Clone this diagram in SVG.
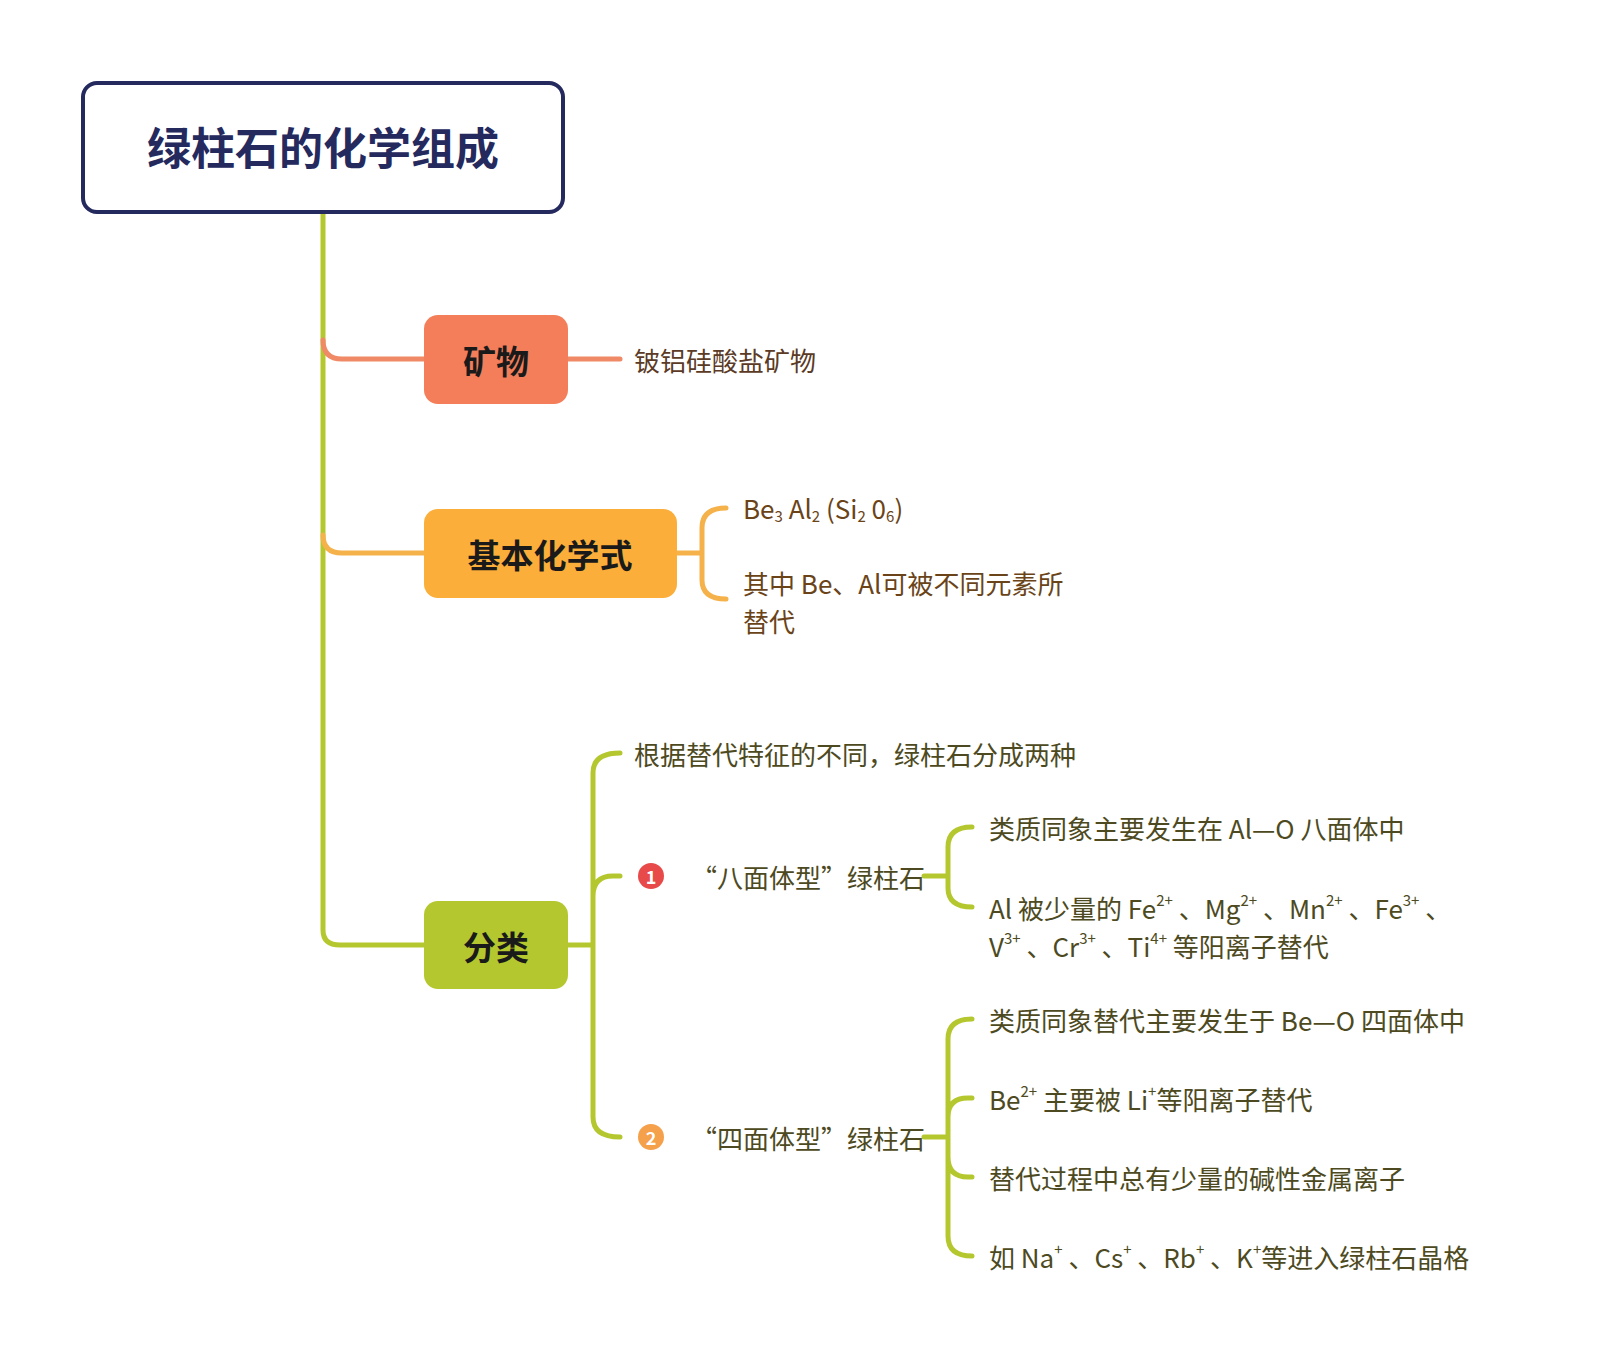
<svg xmlns="http://www.w3.org/2000/svg" width="1611" height="1354" viewBox="0 0 1611 1354">
<style>
text{font-family:"Noto Sans CJK SC","Noto Sans",sans-serif;dominant-baseline:central}
.t{font-size:26px}
.br{fill:#5b3a26}
.ol{fill:#4d4a22}
.or{fill:#6a4418}
.b{font-size:33px;font-weight:bold;fill:#1a1a1a;text-anchor:middle}
.s{font-size:15px}
.ln{fill:none;stroke-width:5;stroke-linecap:round}
</style>
<rect width="1611" height="1354" fill="#fff"/>
<g id="connectors">
<path class="ln" stroke="#B5C72F" d="M323 212 V930 Q323 945 340 945 H424"/>
<path class="ln" stroke="#F08A66" d="M323 340 Q323 359 342 359 H424"/>
<path class="ln" stroke="#F5B14A" d="M323 535 Q323 553 342 553 H424"/>
<path class="ln" stroke="#F08A66" d="M568 359 H620"/>
<path class="ln" stroke="#F5B14A" d="M677 553 H702 M726 508 Q702 508 702 528 V580 Q702 599 726 599"/>
<path class="ln" stroke="#B5C72F" d="M568 945 H593 M620 753 Q593 753 593 773 V1117 Q593 1137 620 1137 M593 896 Q593 876 613 876 H620"/>
<path class="ln" stroke="#B5C72F" d="M924 876 H948 M972 827 Q948 827 948 847 V888 Q948 907 972 907"/>
<path class="ln" stroke="#B5C72F" d="M924 1137 H948 M972 1019 Q948 1019 948 1039 V1236 Q948 1256 972 1256 M948 1117 Q948 1098 968 1098 H972 M948 1157 Q948 1177 968 1177 H972"/>
</g>
<g id="root">
<rect x="83" y="83" width="480" height="129" rx="14" fill="#fff" stroke="#252a5e" stroke-width="4"/>
<text x="323" y="146" text-anchor="middle" font-size="44" font-weight="bold" fill="#252a5e">绿柱石的化学组成</text>
</g>
<g id="n-mineral">
<rect x="424" y="315" width="144" height="89" rx="14" fill="#F47E5A"/>
<text class="b" x="496" y="360">矿物</text>
</g>
<g id="n-mineral-c"><text class="t br" x="634" y="359">铍铝硅酸盐矿物</text></g>
<g id="n-formula">
<rect x="424" y="509" width="253" height="89" rx="14" fill="#FBAE3A"/>
<text class="b" x="550" y="554">基本化学式</text>
</g>
<g id="n-formula-c1"><text class="t or" x="743" y="507">Be<tspan class="s" dy="8">3</tspan><tspan dy="-8"> Al</tspan><tspan class="s" dy="8">2</tspan><tspan dy="-8"> (Si</tspan><tspan class="s" dy="8">2</tspan><tspan dy="-8"> 0</tspan><tspan class="s" dy="8">6</tspan><tspan dy="-8">)</tspan></text></g>
<g id="n-formula-c2"><text class="t or" x="743" y="582">其中 Be、Al可被不同元素所</text><text class="t or" x="743" y="620">替代</text></g>
<g id="n-class">
<rect x="424" y="901" width="144" height="88" rx="14" fill="#B5C72F"/>
<text class="b" x="496" y="946">分类</text>
</g>
<g id="n-class-c0"><text class="t ol" x="634" y="753">根据替代特征的不同，绿柱石分成两种</text></g>
<g id="n-oct">
<circle cx="651" cy="876" r="13" fill="#E84A4A"/>
<text x="651" y="876" text-anchor="middle" font-size="18" font-weight="bold" fill="#fff">1</text>
<text class="t ol" x="691" y="876">“八面体型”绿柱石</text>
</g>
<g id="n-oct-1"><text class="t ol" x="989" y="827">类质同象主要发生在 Al—O 八面体中</text></g>
<g id="n-oct-2"><text class="t ol" x="989" y="907">Al 被少量的 Fe<tspan class="s" dy="-8">2+</tspan><tspan dy="8"> 、Mg</tspan><tspan class="s" dy="-8">2+</tspan><tspan dy="8"> 、Mn</tspan><tspan class="s" dy="-8">2+</tspan><tspan dy="8"> 、Fe</tspan><tspan class="s" dy="-8">3+</tspan><tspan dy="8"> 、</tspan></text>
<text class="t ol" x="989" y="945">V<tspan class="s" dy="-8">3+</tspan><tspan dy="8"> 、Cr</tspan><tspan class="s" dy="-8">3+</tspan><tspan dy="8"> 、Ti</tspan><tspan class="s" dy="-8">4+</tspan><tspan dy="8"> 等阳离子替代</tspan></text></g>
<g id="n-tet">
<circle cx="651" cy="1137" r="13" fill="#F5A04A"/>
<text x="651" y="1137" text-anchor="middle" font-size="18" font-weight="bold" fill="#fff">2</text>
<text class="t ol" x="691" y="1137">“四面体型”绿柱石</text>
</g>
<g id="n-tet-1"><text class="t ol" x="989" y="1019">类质同象替代主要发生于 Be—O 四面体中</text></g>
<g id="n-tet-2"><text class="t ol" x="989" y="1098">Be<tspan class="s" dy="-8">2+</tspan><tspan dy="8">  主要被 Li</tspan><tspan class="s" dy="-8">+</tspan><tspan dy="8">等阳离子替代</tspan></text></g>
<g id="n-tet-3"><text class="t ol" x="989" y="1177">替代过程中总有少量的碱性金属离子</text></g>
<g id="n-tet-4"><text class="t ol" x="989" y="1256">如 Na<tspan class="s" dy="-8">+</tspan><tspan dy="8"> 、Cs</tspan><tspan class="s" dy="-8">+</tspan><tspan dy="8"> 、Rb</tspan><tspan class="s" dy="-8">+</tspan><tspan dy="8"> 、K</tspan><tspan class="s" dy="-8">+</tspan><tspan dy="8">等进入绿柱石晶格</tspan></text></g>
</svg>
